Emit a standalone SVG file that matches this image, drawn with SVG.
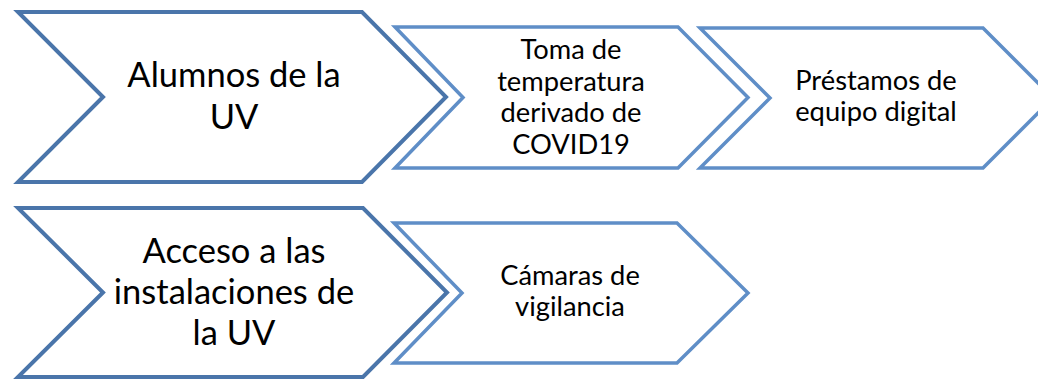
<svg xmlns="http://www.w3.org/2000/svg" width="1038" height="379" viewBox="0 0 1038 379">
<style>
.big{fill:#fff;stroke:#4A75AA;stroke-width:4;stroke-linejoin:miter}
.sm{fill:#fff;stroke:#5F8EC7;stroke-width:3.5;stroke-linejoin:miter}
text{font-family:Lato,"Liberation Sans",sans-serif;fill:#000;text-anchor:middle}
.tb{font-size:34.5px}
.ts{font-size:27.3px}
</style>
<rect width="1038" height="379" fill="#fff"/>
<g id="n3">
<polygon class="sm" points="700,28 983,28 1053,98 983,168 700,168 770,98"/>
<text class="ts" x="876" y="90">Préstamos de</text>
<text class="ts" x="876" y="121">equipo digital</text>
</g>
<g id="n2">
<polygon class="sm" points="395,27 678,27 748,97.5 678,168 395,168 463,97.5"/>
<text class="ts" x="571" y="59">Toma de</text>
<text class="ts" x="571" y="91">temperatura</text>
<text class="ts" x="571" y="122">derivado de</text>
<text class="ts" x="571" y="154">COVID19</text>
</g>
<g id="n1">
<polygon class="big" points="18,12 362,12 446,97 362,182 18,182 103,97"/>
<text class="tb" x="234" y="87">Alumnos de la</text>
<text class="tb" x="234" y="129">UV</text>
</g>
<g id="n5">
<polygon class="sm" points="394,223 677,223 748,293 677,363 394,363 462,293"/>
<text class="ts" x="570" y="285">Cámaras de</text>
<text class="ts" x="570" y="316">vigilancia</text>
</g>
<g id="n4">
<polygon class="big" points="18,208 363,208 447,292.5 363,377 18,377 103,292.5"/>
<text class="tb" x="234" y="263">Acceso a las</text>
<text class="tb" x="234" y="304">instalaciones de</text>
<text class="tb" x="234" y="345">la UV</text>
</g>
<g id="connectors"></g>
</svg>
